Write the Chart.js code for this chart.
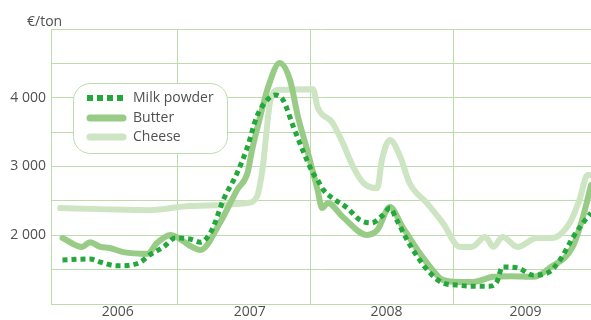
<!DOCTYPE html>
<html>
<head>
<meta charset="utf-8">
<style>
  html, body { margin: 0; padding: 0; background: #ffffff; }
  #wrap { width: 591px; height: 320px; position: relative; }
</style>
<script src="https://cdn.jsdelivr.net/npm/chart.js@4/dist/chart.umd.min.js"></script>
</head>
<body>
<div id="wrap"><canvas id="chart" width="591" height="320"></canvas></div>
<script>
// Time axis in months, counted from January 2006 (month 0)
const years = ['2006', '2007', '2008', '2009'];
const yearLabelPos = [6.8, 18.3, 30.2, 42.3];
const yearBounds = [12, 23.6, 36];
const yLabelValues = [2000, 3000, 4000];

// Milk powder, €/ton
const milkMonths = [2.0, 4.4, 5.3, 6.7, 7.9, 8.8, 9.6, 10.8, 11.8, 13.1, 14.0, 15.0, 16.0, 17.2, 18.1, 18.9, 19.8, 20.5, 21.2, 22.1, 22.9, 23.8, 24.2, 24.7, 25.5, 26.8, 27.9, 28.9, 29.9, 30.5, 31.1, 32.0, 32.9, 34.0, 35.1, 36.3, 37.5, 39.2, 39.8, 40.3, 41.6, 43.0, 44.2, 45.3, 46.4, 47.3, 48.0];
const milkPrices = [1640, 1655, 1610, 1555, 1565, 1610, 1715, 1830, 1960, 1945, 1900, 2075, 2515, 2905, 3285, 3720, 3965, 4040, 3965, 3575, 3240, 2905, 2805, 2660, 2540, 2395, 2220, 2180, 2295, 2395, 2220, 1930, 1685, 1450, 1305, 1275, 1260, 1260, 1320, 1540, 1525, 1420, 1450, 1640, 1960, 2180, 2325];

// Butter, €/ton
const butterMonths = [2.0, 3.7, 4.4, 5.3, 6.1, 7.3, 9.4, 10.2, 11.4, 12.1, 13.1, 14.0, 15.7, 17.2, 18.1, 18.5, 19.2, 19.9, 20.9, 21.8, 22.5, 23.3, 24.2, 24.6, 25.1, 26.4, 28.5, 29.4, 30.5, 31.6, 32.9, 34.0, 35.1, 36.6, 37.7, 39.5, 41.0, 43.0, 44.4, 46.4, 47.3, 48.0];
const butterPrices = [1960, 1830, 1900, 1830, 1815, 1755, 1730, 1885, 2005, 1960, 1845, 1785, 2180, 2660, 2905, 3240, 3720, 4155, 4505, 4260, 3720, 3240, 2660, 2395, 2470, 2265, 2005, 2075, 2410, 2120, 1785, 1540, 1350, 1320, 1320, 1395, 1405, 1395, 1525, 1830, 2265, 2730];

// Cheese, €/ton
const cheeseMonths = [1.8, 5.3, 9.6, 13.1, 18.1, 18.9, 19.4, 20.1, 20.8, 23.8, 24.2, 25.5, 26.4, 27.3, 28.2, 29.4, 29.8, 30.5, 31.4, 32.2, 33.7, 35.1, 36.6, 37.6, 38.8, 39.5, 40.3, 41.6, 43.3, 44.6, 46.2, 47.0, 47.7, 48.0];
const cheesePrices = [2395, 2380, 2365, 2425, 2470, 2555, 2950, 3965, 4115, 4125, 3865, 3635, 3340, 2995, 2760, 2685, 3095, 3385, 3140, 2760, 2470, 2180, 1830, 1830, 1975, 1830, 1975, 1830, 1960, 1960, 2195, 2515, 2875, 2875];

const seriesNames = ['Milk powder', 'Butter', 'Cheese'];

const gridColor = '#bcdcae';
const textColor = '#505050';
const milkColor = '#24a83c';
const butterColor = '#98cc86';
const cheeseColor = '#cde5c3';
const fontFamily = '"Open Sans", "Liberation Sans", sans-serif';

const toPoints = (xs, ys) => xs.map((x, i) => ({ x: x, y: ys[i] }));
const fmtThousands = v => Math.floor(v / 1000) + ' ' + String(v % 1000).padStart(3, '0');

// Unit caption and rounded legend box drawn on the canvas
const decorations = {
  id: 'decorations',
  beforeDatasetsDraw(chart) {
    const ctx = chart.ctx;
    ctx.save();
    const bx = 73.5, by = 83.5, bw = 154, bh = 70, r = 17;
    ctx.beginPath();
    ctx.roundRect(bx, by, bw, bh, r);
    ctx.fillStyle = '#ffffff';
    ctx.fill();
    ctx.lineWidth = 1;
    ctx.strokeStyle = gridColor;
    ctx.stroke();

    const rows = [98, 118, 137];
    const sx0 = 87, sx1 = 124;
    // dotted sample
    ctx.lineWidth = 6;
    ctx.strokeStyle = milkColor;
    ctx.setLineDash([6, 4]);
    ctx.lineCap = 'butt';
    ctx.beginPath();
    ctx.moveTo(sx0, rows[0]);
    ctx.lineTo(sx1 + 2, rows[0]);
    ctx.stroke();
    ctx.setLineDash([]);
    ctx.lineCap = 'round';
    ctx.lineWidth = 7;
    ctx.strokeStyle = butterColor;
    ctx.beginPath();
    ctx.moveTo(sx0 + 3, rows[1]);
    ctx.lineTo(sx1 - 1, rows[1]);
    ctx.stroke();
    ctx.strokeStyle = cheeseColor;
    ctx.beginPath();
    ctx.moveTo(sx0 + 3, rows[2]);
    ctx.lineTo(sx1 - 1, rows[2]);
    ctx.stroke();

    ctx.fillStyle = textColor;
    ctx.font = '14px ' + fontFamily;
    ctx.textAlign = 'left';
    ctx.textBaseline = 'middle';
    seriesNames.forEach((n, i) => ctx.fillText(n, 133, rows[i]));
    ctx.restore();
  },
  afterDraw(chart) {
    const ctx = chart.ctx;
    ctx.save();
    ctx.fillStyle = textColor;
    ctx.font = '14px ' + fontFamily;
    ctx.textAlign = 'left';
    ctx.textBaseline = 'middle';
    ctx.fillText('€/ton', 27, 22);
    ctx.restore();
  }
};

new Chart(document.getElementById('chart'), {
  type: 'line',
  data: {
    datasets: [
      {
        label: seriesNames[0],
        data: toPoints(milkMonths, milkPrices),
        borderColor: milkColor,
        borderWidth: 5,
        borderDash: [5, 4],
        borderCapStyle: 'butt',
        cubicInterpolationMode: 'monotone',
        pointRadius: 0,
        fill: false
      },
      {
        label: seriesNames[1],
        data: toPoints(butterMonths, butterPrices),
        borderColor: butterColor,
        borderWidth: 6,
        borderCapStyle: 'round',
        borderJoinStyle: 'round',
        cubicInterpolationMode: 'monotone',
        pointRadius: 0,
        fill: false
      },
      {
        label: seriesNames[2],
        data: toPoints(cheeseMonths, cheesePrices),
        borderColor: cheeseColor,
        borderWidth: 6,
        borderCapStyle: 'round',
        borderJoinStyle: 'round',
        cubicInterpolationMode: 'monotone',
        pointRadius: 0,
        fill: false
      }
    ]
  },
  options: {
    responsive: false,
    animation: false,
    layout: { padding: { top: 29, right: 0, left: 0, bottom: 0 } },
    plugins: {
      legend: { display: false },
      tooltip: { enabled: false },
      title: { display: false }
    },
    scales: {
      x: {
        type: 'linear',
        min: 1,
        max: 48,
        afterBuildTicks(scale) {
          scale.ticks = [...yearBounds, ...yearLabelPos].sort((a, b) => a - b).map(v => ({ value: v }));
        },
        afterFit(scale) { scale.height = 16; },
        ticks: {
          autoSkip: false,
          maxRotation: 0,
          padding: 0,
          color: textColor,
          font: { family: fontFamily, size: 14 },
          callback(v) {
            const i = yearLabelPos.indexOf(v);
            return i >= 0 ? years[i] : '';
          }
        },
        grid: {
          drawTicks: false,
          lineWidth: 1,
          color(ctx) {
            return ctx.tick && yearBounds.includes(ctx.tick.value) ? gridColor : 'rgba(0,0,0,0)';
          }
        },
        border: { display: true, color: gridColor }
      },
      y: {
        min: 1000,
        max: 5000,
        afterFit(scale) { scale.width = 51; },
        ticks: {
          stepSize: 500,
          padding: 5,
          color: textColor,
          font: { family: fontFamily, size: 14 },
          callback(v) { return yLabelValues.includes(v) ? fmtThousands(v) : ''; }
        },
        grid: { drawTicks: false, color: gridColor, lineWidth: 1 },
        border: { display: true, color: gridColor }
      }
    }
  },
  plugins: [decorations]
});
</script>
</body>
</html>
